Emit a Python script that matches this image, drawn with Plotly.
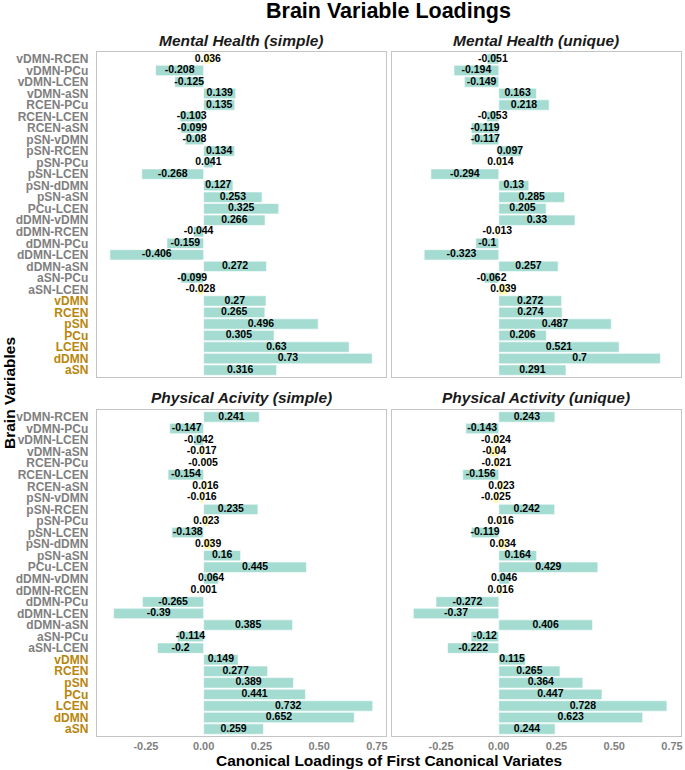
import plotly.graph_objects as go

# ---- data (top-to-bottom order as displayed) ----
variables = ["vDMN-RCEN", "vDMN-PCu", "vDMN-LCEN", "vDMN-aSN", "RCEN-PCu", "RCEN-LCEN",
             "RCEN-aSN", "pSN-vDMN", "pSN-RCEN", "pSN-PCu", "pSN-LCEN", "pSN-dDMN",
             "pSN-aSN", "PCu-LCEN", "dDMN-vDMN", "dDMN-RCEN", "dDMN-PCu", "dDMN-LCEN",
             "dDMN-aSN", "aSN-PCu", "aSN-LCEN", "vDMN", "RCEN", "pSN", "PCu", "LCEN",
             "dDMN", "aSN"]
networks = ["vDMN", "RCEN", "pSN", "PCu", "LCEN", "dDMN", "aSN"]

mh_simple = [0.036, -0.208, -0.125, 0.139, 0.135, -0.103, -0.099, -0.08, 0.134, 0.041,
             -0.268, 0.127, 0.253, 0.325, 0.266, -0.044, -0.159, -0.406, 0.272, -0.099,
             -0.028, 0.27, 0.265, 0.496, 0.305, 0.63, 0.73, 0.316]
mh_unique = [-0.051, -0.194, -0.149, 0.163, 0.218, -0.053, -0.119, -0.117, 0.097, 0.014,
             -0.294, 0.13, 0.285, 0.205, 0.33, -0.013, -0.1, -0.323, 0.257, -0.062,
             0.039, 0.272, 0.274, 0.487, 0.206, 0.521, 0.7, 0.291]
pa_simple = [0.241, -0.147, -0.042, -0.017, -0.005, -0.154, 0.016, -0.016, 0.235, 0.023,
             -0.138, 0.039, 0.16, 0.445, 0.064, 0.001, -0.265, -0.39, 0.385, -0.114,
             -0.2, 0.149, 0.277, 0.389, 0.441, 0.732, 0.652, 0.259]
pa_unique = [0.243, -0.143, -0.024, -0.04, -0.021, -0.156, 0.023, -0.025, 0.242, 0.016,
             -0.119, 0.034, 0.164, 0.429, 0.046, 0.016, -0.272, -0.37, 0.406, -0.12,
             -0.222, 0.115, 0.265, 0.364, 0.447, 0.728, 0.623, 0.244]

panel_titles = ["Mental Health (simple)", "Mental Health (unique)",
                "Physical Acivity (simple)", "Physical Activity (unique)"]
x_ticks = [-0.25, 0.0, 0.25, 0.5, 0.75]
x_tick_labels = ["-0.25", "0.00", "0.25", "0.50", "0.75"]

# ---- styling ----
W, H = 685, 770
FONT = "Liberation Sans, Arial, sans-serif"
TEAL = "#A4DCD2"
YELLOW = "#FFF7AE"
GRAY = "#7F7F7F"
GOLD = "#B8860B"
FRAME = "#C4C4C4"
THRESH = 0.04

def px_x(p):
    return p / W

def px_y(p):
    return 1 - p / H

# panel pixel boxes: (left, right, top, bottom)
boxes = [(97, 387, 52, 377), (393, 683, 52, 377),
         (97, 387, 410, 736), (393, 683, 410, 736)]
series = [mh_simple, mh_unique, pa_simple, pa_unique]

fig = go.Figure()
xr = [-0.463, 0.789]
n = len(variables)

ticktext = []
for v in variables:
    col = GOLD if v in networks else GRAY
    ticktext.append(f'<span style="color:{col}">{v}</span>')

for i, (vals, box) in enumerate(zip(series, boxes)):
    k = "" if i == 0 else str(i + 1)
    xa, ya = "x" + k, "y" + k
    colors = [TEAL if abs(v) > THRESH else YELLOW for v in vals]
    fig.add_trace(go.Bar(
        x=vals, y=variables, orientation="h", width=0.9,
        marker=dict(color=colors, line=dict(color="white", width=0.6)),
        xaxis=xa, yaxis=ya, showlegend=False, hoverinfo="x+y"))
    fig.add_trace(go.Scatter(
        x=[v / 2 for v in vals], y=variables, mode="text",
        text=[f"{v:g}" for v in vals],
        textfont=dict(family=FONT, size=10.5, color="black", weight="bold"),
        xaxis=xa, yaxis=ya, showlegend=False, hoverinfo="skip"))

    l, r, t, b = box
    bottom_row = i >= 2
    left_col = i % 2 == 0
    fig.layout["xaxis" + k] = dict(
        domain=[px_x(l), px_x(r)], anchor=ya, range=xr,
        showgrid=False, zeroline=False, showline=True, linecolor=FRAME, linewidth=1,
        mirror=True, ticks="", tickmode="array", tickvals=x_ticks,
        ticktext=x_tick_labels, showticklabels=bottom_row,
        tickfont=dict(family=FONT, size=11, color=GRAY, weight="bold"),
        fixedrange=True)
    fig.layout["yaxis" + k] = dict(
        domain=[px_y(b), px_y(t)], anchor=xa, type="category",
        categoryorder="array", categoryarray=variables,
        range=[n - 0.4, -0.6],
        showgrid=False, zeroline=False, showline=True, linecolor=FRAME, linewidth=1,
        mirror=True, ticks="", tickmode="array", tickvals=variables, ticktext=ticktext,
        showticklabels=left_col, ticklabelstandoff=5,
        tickfont=dict(family=FONT, size=12, color=GRAY, weight="bold"),
        fixedrange=True)

    fig.add_annotation(
        x=px_x((l + r) / 2), y=px_y(t - 12), xref="paper", yref="paper",
        text=f"<b><i>{panel_titles[i]}</i></b>", showarrow=False,
        xanchor="center", yanchor="middle",
        font=dict(family=FONT, size=15.5, color="#1a1a1a"))

fig.add_annotation(
    x=px_x(390), y=px_y(11), xref="paper", yref="paper",
    text="<b>Brain Variable Loadings</b>", showarrow=False,
    xanchor="center", yanchor="middle",
    font=dict(family=FONT, size=21.5, color="black"))
fig.add_annotation(
    x=px_x(390), y=px_y(760), xref="paper", yref="paper",
    text="<b>Canonical Loadings of First Canonical Variates</b>", showarrow=False,
    xanchor="center", yanchor="middle",
    font=dict(family=FONT, size=15.5, color="black"))
fig.add_annotation(
    x=px_x(9), y=px_y(393), xref="paper", yref="paper",
    text="<b>Brain Variables</b>", showarrow=False, textangle=-90,
    xanchor="center", yanchor="middle",
    font=dict(family=FONT, size=15.5, color="black"))

fig.update_layout(
    width=W, height=H, margin=dict(l=0, r=0, t=0, b=0),
    paper_bgcolor="white", plot_bgcolor="white", bargap=0.1,
    font=dict(family=FONT))

fig.write_html(
    "out.html",
    config={"displayModeBar": False},
    post_script="document.body.style.margin='0';document.body.style.overflow='hidden';")
